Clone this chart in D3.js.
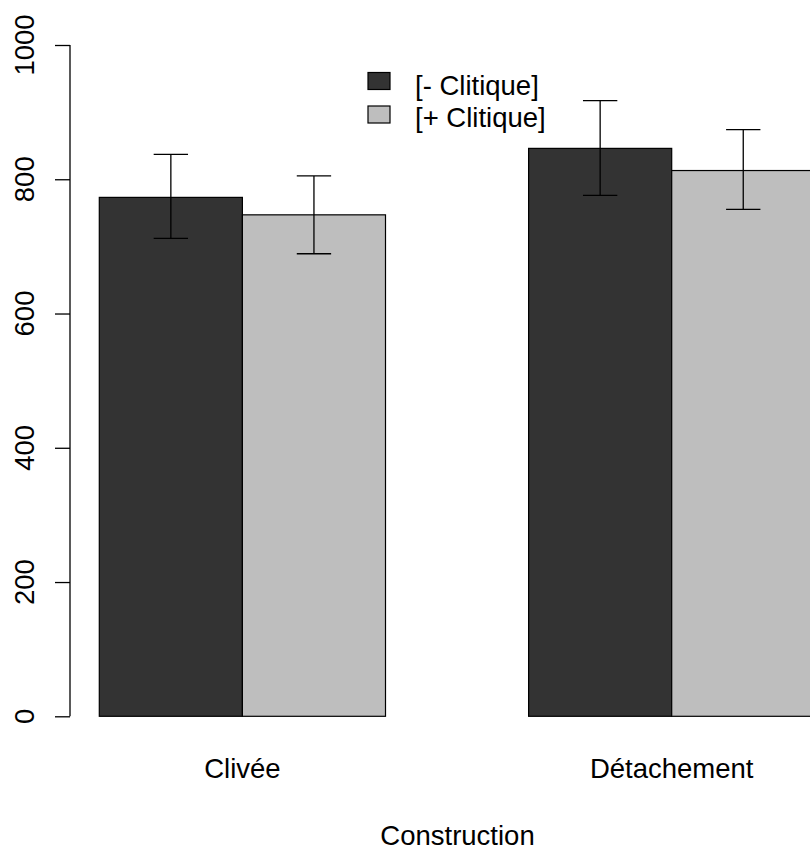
<!DOCTYPE html>
<html>
<head>
<meta charset="utf-8">
<script src="https://cdn.jsdelivr.net/npm/d3@7"></script>
<style>
  body { margin: 0; background: #fff; }
  svg { display: block; font-family: "Liberation Sans", Arial, sans-serif; }
</style>
</head>
<body>
<div id="chart"></div>
<script>
// Data
const groups = ["Clivée", "Détachement"];
const series = ["[- Clitique]", "[+ Clitique]"];
const meanMinus = [773, 846];
const meanPlus = [747, 813];
const lowMinus = [712, 776];
const highMinus = [837, 917];
const lowPlus = [689, 755];
const highPlus = [805, 874];
const yTicks = [0, 200, 400, 600, 800, 1000];
const fills = ["#333333", "#bebebe"];

const width = 810, height = 852;

const svg = d3.select("#chart")
    .append("svg")
    .attr("width", width)
    .attr("height", height);

// x in bar units (barplot with space = c(0, 1))
const x = d3.scaleLinear()
    .domain([1, 6])
    .range([99.3, 814.8]);

const y = d3.scaleLinear()
    .domain([0, 1000])
    .range([716.3, 45]);

// build bar table
const bars = [];
groups.forEach((g, gi) => {
    bars.push({group: g, s: 0, value: meanMinus[gi], lo: lowMinus[gi], hi: highMinus[gi], left: 1 + gi * 3});
    bars.push({group: g, s: 1, value: meanPlus[gi], lo: lowPlus[gi], hi: highPlus[gi], left: 2 + gi * 3});
});

svg.selectAll(".bar")
    .data(bars)
    .join("rect")
    .attr("class", "bar")
    .attr("x", d => x(d.left))
    .attr("y", d => y(d.value))
    .attr("width", d => x(d.left + 1) - x(d.left))
    .attr("height", d => y(0) - y(d.value))
    .attr("fill", d => fills[d.s])
    .attr("stroke", "#000")
    .attr("stroke-width", 1.2);

// error bars
const capHalf = (x(2) - x(1)) * 0.12;
const err = svg.append("g")
    .attr("stroke", "#000")
    .attr("stroke-width", 1.3);

bars.forEach(d => {
    const cx = x(d.left + 0.5);
    err.append("line").attr("x1", cx).attr("x2", cx).attr("y1", y(d.lo)).attr("y2", y(d.hi));
    err.append("line").attr("x1", cx - capHalf).attr("x2", cx + capHalf).attr("y1", y(d.hi)).attr("y2", y(d.hi));
    err.append("line").attr("x1", cx - capHalf).attr("x2", cx + capHalf).attr("y1", y(d.lo)).attr("y2", y(d.lo));
});

// y axis
const yAxis = svg.append("g")
    .attr("transform", "translate(70,0)")
    .call(d3.axisLeft(y).tickValues(yTicks).tickSize(15).tickPadding(0).tickFormat(d3.format("d")));

yAxis.select(".domain")
    .attr("d", `M0,${y(0)}V${y(1000)}`)
    .attr("stroke-width", 1.3);
yAxis.selectAll(".tick line").attr("stroke-width", 1.3);
yAxis.selectAll(".tick text").remove();

svg.append("g")
    .selectAll("text")
    .data(yTicks)
    .join("text")
    .attr("transform", d => `translate(33.5,${y(d)}) rotate(-90)`)
    .attr("text-anchor", "middle")
    .style("font-size", "27.5px")
    .attr("fill", "#000")
    .text(d => d);

// group labels
svg.append("g")
    .selectAll("text")
    .data(groups)
    .join("text")
    .attr("x", (d, i) => x(2 + i * 3))
    .attr("y", 778)
    .attr("text-anchor", "middle")
    .style("font-size", "27.5px")
    .text(d => d);

// x axis title
svg.append("text")
    .attr("x", 457.5)
    .attr("y", 845)
    .attr("text-anchor", "middle")
    .style("font-size", "27.5px")
    .text("Construction");

// legend
const legend = svg.append("g");
series.forEach((s, i) => {
    legend.append("rect")
        .attr("x", 368)
        .attr("y", 72.5 + i * 33.5)
        .attr("width", 22)
        .attr("height", 17)
        .attr("fill", fills[i])
        .attr("stroke", "#000")
        .attr("stroke-width", 1.2);
    legend.append("text")
        .attr("x", 415)
        .attr("y", 95 + i * 32)
        .style("font-size", "27.5px")
        .text(s);
});
</script>
</body>
</html>
